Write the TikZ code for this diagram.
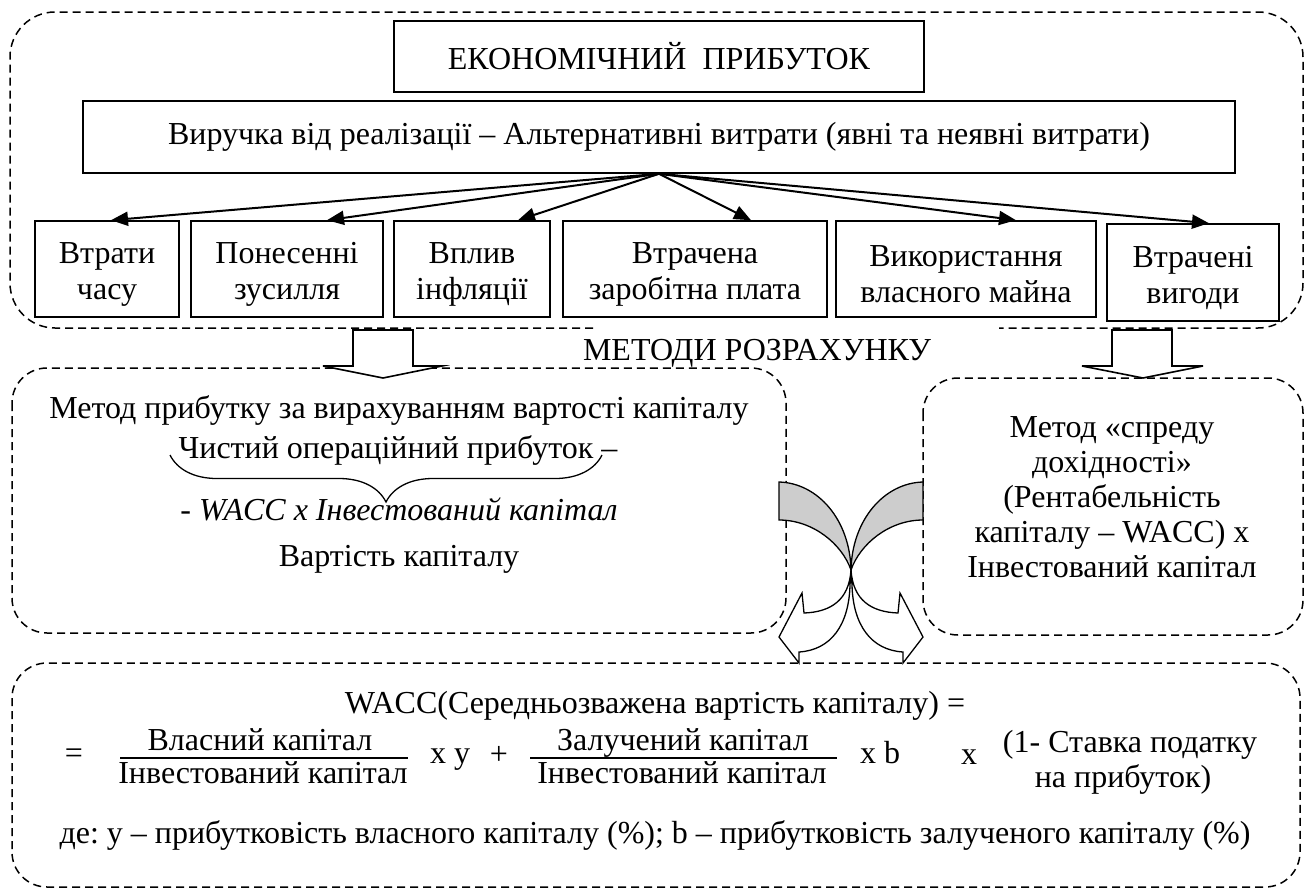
\documentclass[tikz,border=0pt]{standalone}
\usepackage{fontspec}
\setmainfont{Liberation Serif}
\usetikzlibrary{arrows.meta,calc,decorations.pathreplacing}
\definecolor{backgray}{RGB}{205,205,205}
\newcommand{\firststrut}{\rule{0pt}{32pt}}
\begin{document}
\frenchspacing
\begin{tikzpicture}[x=1pt,y=-1pt,
  every node/.style={font=\fontsize{32}{36}\selectfont\frenchspacing},
  box/.style={draw, line width=1.6pt, align=center, inner sep=0pt},
  dbox/.style={draw, line width=1.5pt, dash pattern=on 8pt off 5pt},
  arr/.style={line width=2pt, -{Triangle[length=17pt,width=14pt]}},
  blockarrow/.style={draw, fill=white, line width=1.6pt, line join=miter},
  curvearrow/.style={draw, line width=1.3pt, line join=miter},
  txt/.style={anchor=base, inner sep=0pt},
  fracline/.style={line width=1.3pt}
]
\useasboundingbox (0,0) rectangle (1310,892);

% dashed containers
\draw[dbox, rounded corners=45pt] (593,328) -- (10,328) -- (10,12) -- (1303,12) -- (1303,328) -- (999,328);
\draw[dbox, rounded corners=35pt] (12,368) rectangle (786,633);
\draw[dbox, rounded corners=35pt] (923,378) rectangle (1303,635);
\draw[dbox, rounded corners=35pt] (12,663) rectangle (1300,887);

% top part
\node[box, minimum width=530pt, minimum height=71pt] (top) at (659,56.5) {ЕКОНОМІЧНИЙ\ \ ПРИБУТОК};
\node[box, minimum width=1152pt, minimum height=72pt] (rev) at (659,137) {Виручка від реалізації – Альтернативні витрати (явні та неявні витрати)};

\node[box, minimum width=144pt, minimum height=96pt] (b1) at (107,269) {\firststrut Втрати\\часу};
\node[box, minimum width=192pt, minimum height=96pt] (b2) at (287,269) {\firststrut Понесенні\\зусилля};
\node[box, minimum width=156pt, minimum height=96pt] (b3) at (472,269) {\firststrut Вплив\\інфляції};
\node[box, minimum width=264pt, minimum height=96pt] (b4) at (695,269) {\firststrut Втрачена\\заробітна плата};
\node[box, minimum width=260pt, minimum height=96pt] (b5) at (966,269) {\firststrut Використання\\власного майна};
\node[box, minimum width=172pt, minimum height=97pt] (b6) at (1193,272.5) {\firststrut Втрачені\\вигоди};

\coordinate (src) at (rev.south);
\draw[arr] (src) -- ($(b1.north)+(4,0)$);
\draw[arr] (src) -- ($(b2.north)+(40,0)$);
\draw[arr] (src) -- ($(b3.north)+(46,0)$);
\draw[arr] (src) -- ($(b4.north)+(56,0)$);
\draw[arr] (src) -- ($(b5.north)+(50,0)$);
\draw[arr] (src) -- ($(b6.north)+(16,0)$);

% block arrows
\draw[blockarrow] (353,330) -- (353,366) -- (323,366) -- (383,378) -- (442,366) -- (413,366) -- (413,330) -- cycle;
\draw[blockarrow] (1112,330) -- (1112,366) -- (1082,366) -- (1143,378) -- (1203,366) -- (1172,366) -- (1172,330) -- cycle;

\node[txt] (methods) at (757,360) {МЕТОДИ РОЗРАХУНКУ};

% left method box
\node[txt] (m1) at (399,418) {Метод прибутку за вирахуванням вартості капіталу};
\node[txt] (m2) at (398,458) {Чистий операційний прибуток –};
\draw[line width=1.3pt, decorate, decoration={brace, amplitude=47pt}] (602,455) -- (170,455);
\node[txt] (m3) at (399,520) {- \textit{WACC x Інвестований капітал}};
\node[txt] (m4) at (399,566) {Вартість капіталу};

% right method box
\node[txt] (r1) at (1112,437) {Метод «спреду};
\node[txt] (r2) at (1112,472) {дохідності»};
\node[txt] (r3) at (1112,507) {(Рентабельність};
\node[txt] (r4) at (1112,542) {капіталу – WACC) x};
\node[txt] (r5) at (1112,577) {Інвестований капітал};

% curved arrows
\begin{scope}[shift={(851,570)}]
  \fill[backgray] (-72,-88) .. controls (-33,-87) and (-1,-50) .. (0,0) .. controls (-9,-26) and (-38,-50) .. (-72,-50) -- cycle;
  \draw[curvearrow] (-72,-88) .. controls (-33,-87) and (-1,-50) .. (0,0) .. controls (-9,-26) and (-38,-50) .. (-72,-50) -- cycle;
\end{scope}
\begin{scope}[shift={(851,570)}, xscale=-1]
  \fill[backgray] (-72,-88) .. controls (-33,-87) and (-1,-50) .. (0,0) .. controls (-9,-26) and (-38,-50) .. (-72,-50) -- cycle;
  \draw[curvearrow] (-72,-88) .. controls (-33,-87) and (-1,-50) .. (0,0) .. controls (-9,-26) and (-38,-50) .. (-72,-50) -- cycle;
\end{scope}
\begin{scope}[shift={(851,570)}]
  \draw[curvearrow, fill=white] (0,0) .. controls (2,30) and (20,42) .. (47,43) -- (49,23) -- (72,67) -- (52,93) -- (52,82) .. controls (20,80) and (2,55) .. (1,15) -- cycle;
\end{scope}
\begin{scope}[shift={(851,570)}, xscale=-1]
  \draw[curvearrow, fill=white] (0,0) .. controls (2,30) and (20,42) .. (47,43) -- (49,23) -- (72,67) -- (52,93) -- (52,82) .. controls (20,80) and (2,55) .. (1,15) -- cycle;
\end{scope}

% bottom formula
\node[txt] (wacc) at (655,713) {WACC(Середньозважена вартість капіталу) =};
\node[txt] (eq) at (74,763) {=};
\node[txt] (n1) at (260,750) {Власний капітал};
\node[txt] (d1) at (263,783) {Інвестований капітал};
\draw[fracline] (120,758) -- (408,758);
\node[txt] (xy) at (450,763) {x y};
\node[txt] (plus) at (499,764) {+};
\node[txt] (n2) at (683,750) {Залучений капітал};
\node[txt] (d2) at (682,783) {Інвестований капітал};
\draw[fracline] (530,758) -- (837,758);
\node[txt] (xb) at (880,763) {x b};
\node[txt] (x2) at (969,764) {x};
\node[txt] (tax1) at (1130,752) {(1- Ставка податку};
\node[txt] (tax2) at (1123,787) {на прибуток)};
\node[txt] (where) at (655,843) {де: y – прибутковість власного капіталу (\%); b – прибутковість залученого капіталу (\%)};
\end{tikzpicture}
\end{document}
